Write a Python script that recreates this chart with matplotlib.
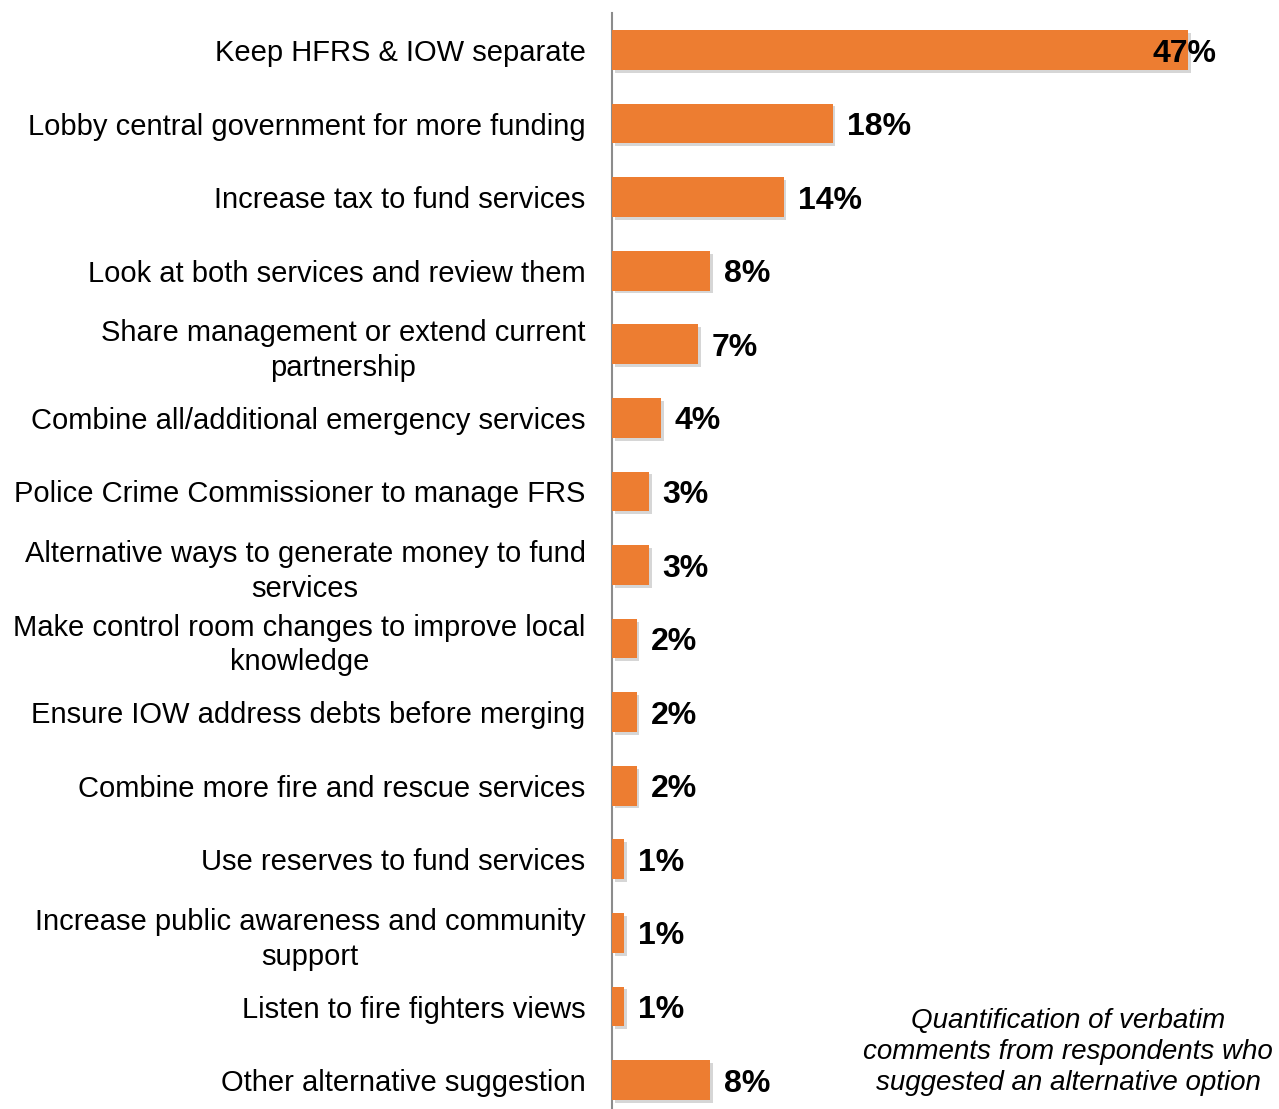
import matplotlib.pyplot as plt
import matplotlib.patheffects as pe

plt.rcParams["font.family"] = ["Liberation Sans", "DejaVu Sans"]

CATEGORIES = [
    "Keep HFRS & IOW separate",
    "Lobby central government for more funding",
    "Increase tax to fund services",
    "Look at both services and review them",
    "Share management or extend current\npartnership",
    "Combine all/additional emergency services",
    "Police Crime Commissioner to manage FRS",
    "Alternative ways to generate money to fund\nservices",
    "Make control room changes to improve local\nknowledge",
    "Ensure IOW address debts before merging",
    "Combine more fire and rescue services",
    "Use reserves to fund services",
    "Increase public awareness and community\nsupport",
    "Listen to fire fighters views",
    "Other alternative suggestion",
]
VALUES = [47, 18, 14, 8, 7, 4, 3, 3, 2, 2, 2, 1, 1, 1, 8]
NOTE = "Quantification of verbatim\ncomments from respondents who\nsuggested an alternative option"

BAR_COLOR = "#ED7D31"

fig = plt.figure(figsize=(12.79, 11.09), dpi=100)
ax = fig.add_axes([612 / 1279, 0, 667 / 1279, 1096 / 1109])

positions = list(range(len(CATEGORIES)))
bars = ax.barh(positions, VALUES, height=0.54, color=BAR_COLOR, zorder=3)
for bar in bars:
    bar.set_path_effects([
        pe.SimplePatchShadow(offset=(2, -2), shadow_rgbFace="#bbbbbb", alpha=0.6),
        pe.Normal(),
    ])

ax.set_xlim(0, 54.4)
ax.set_ylim(14.393, -0.503)
ax.set_yticks(positions)
ax.set_yticklabels(CATEGORIES, fontsize=21, multialignment="center", linespacing=1.3)
ax.tick_params(axis="y", length=0, pad=19)
ax.set_xticks([])

for side in ["top", "right", "bottom"]:
    ax.spines[side].set_visible(False)
ax.spines["left"].set_color("#8c8c8c")
ax.spines["left"].set_linewidth(1.5)

top = max(VALUES)
for pos, val in zip(positions, VALUES):
    if val == top:
        ax.annotate(f"{val}%", (val, pos), xytext=(-3, 0), textcoords="offset points",
                    ha="center", va="center_baseline", fontsize=23, fontweight="bold",
                    zorder=5)
    else:
        ax.annotate(f"{val}%", (val, pos), xytext=(10, 0), textcoords="offset points",
                    ha="left", va="center_baseline", fontsize=23, fontweight="bold")

fig.text(1068 / 1279, 1 - 1052 / 1109, NOTE, ha="center", va="center",
         fontsize=20, style="italic", linespacing=1.27)

fig.savefig("out.png", dpi=100)
